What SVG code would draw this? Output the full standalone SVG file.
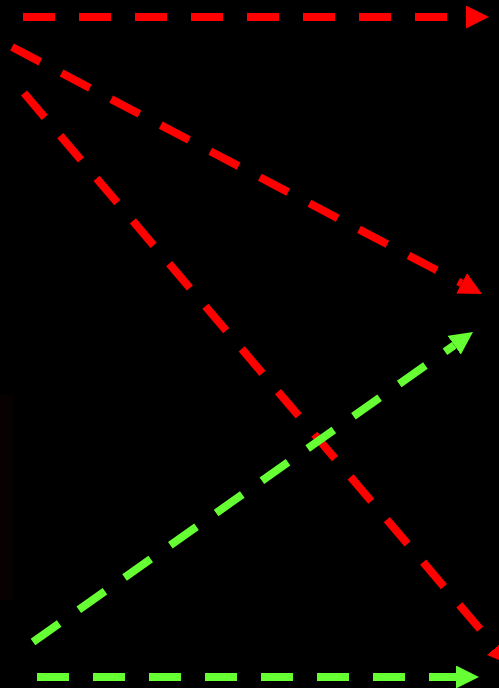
<svg xmlns="http://www.w3.org/2000/svg" width="499" height="688" viewBox="0 0 499 688">
<style>
.red{stroke:#ff0000;stroke-width:8;fill:none;stroke-dasharray:32 24;}
.green{stroke:#66ff33;stroke-width:8;fill:none;stroke-dasharray:32 24;}
</style>
<defs>
<marker id="ar" markerUnits="userSpaceOnUse" markerWidth="23" markerHeight="23" viewBox="0 0 23 23" refX="0" refY="11.5" orient="auto"><path d="M0,0 L23,11.5 L0,23 Z" fill="#ff0000"/></marker>
<marker id="ag" markerUnits="userSpaceOnUse" markerWidth="23" markerHeight="23" viewBox="0 0 23 23" refX="0" refY="11.5" orient="auto"><path d="M0,0 L23,11.5 L0,23 Z" fill="#66ff33"/></marker>
</defs>
<rect x="0" y="0" width="499" height="688" fill="#000000"/>
<rect x="0" y="395" width="13" height="205" fill="#080101"/>
<g id="connectors">
<path class="red" d="M23,17 L466,17" marker-end="url(#ar)"/>
<path class="red" d="M12,47 L461.6,283.3" marker-end="url(#ar)"/>
<path class="red" d="M24,93 L495.7,647.5" marker-end="url(#ar)"/>
<path class="green" d="M33,642 L454.2,345.2" marker-end="url(#ag)"/>
<path class="green" d="M37,677 L456,677" marker-end="url(#ag)"/>
</g>
</svg>
